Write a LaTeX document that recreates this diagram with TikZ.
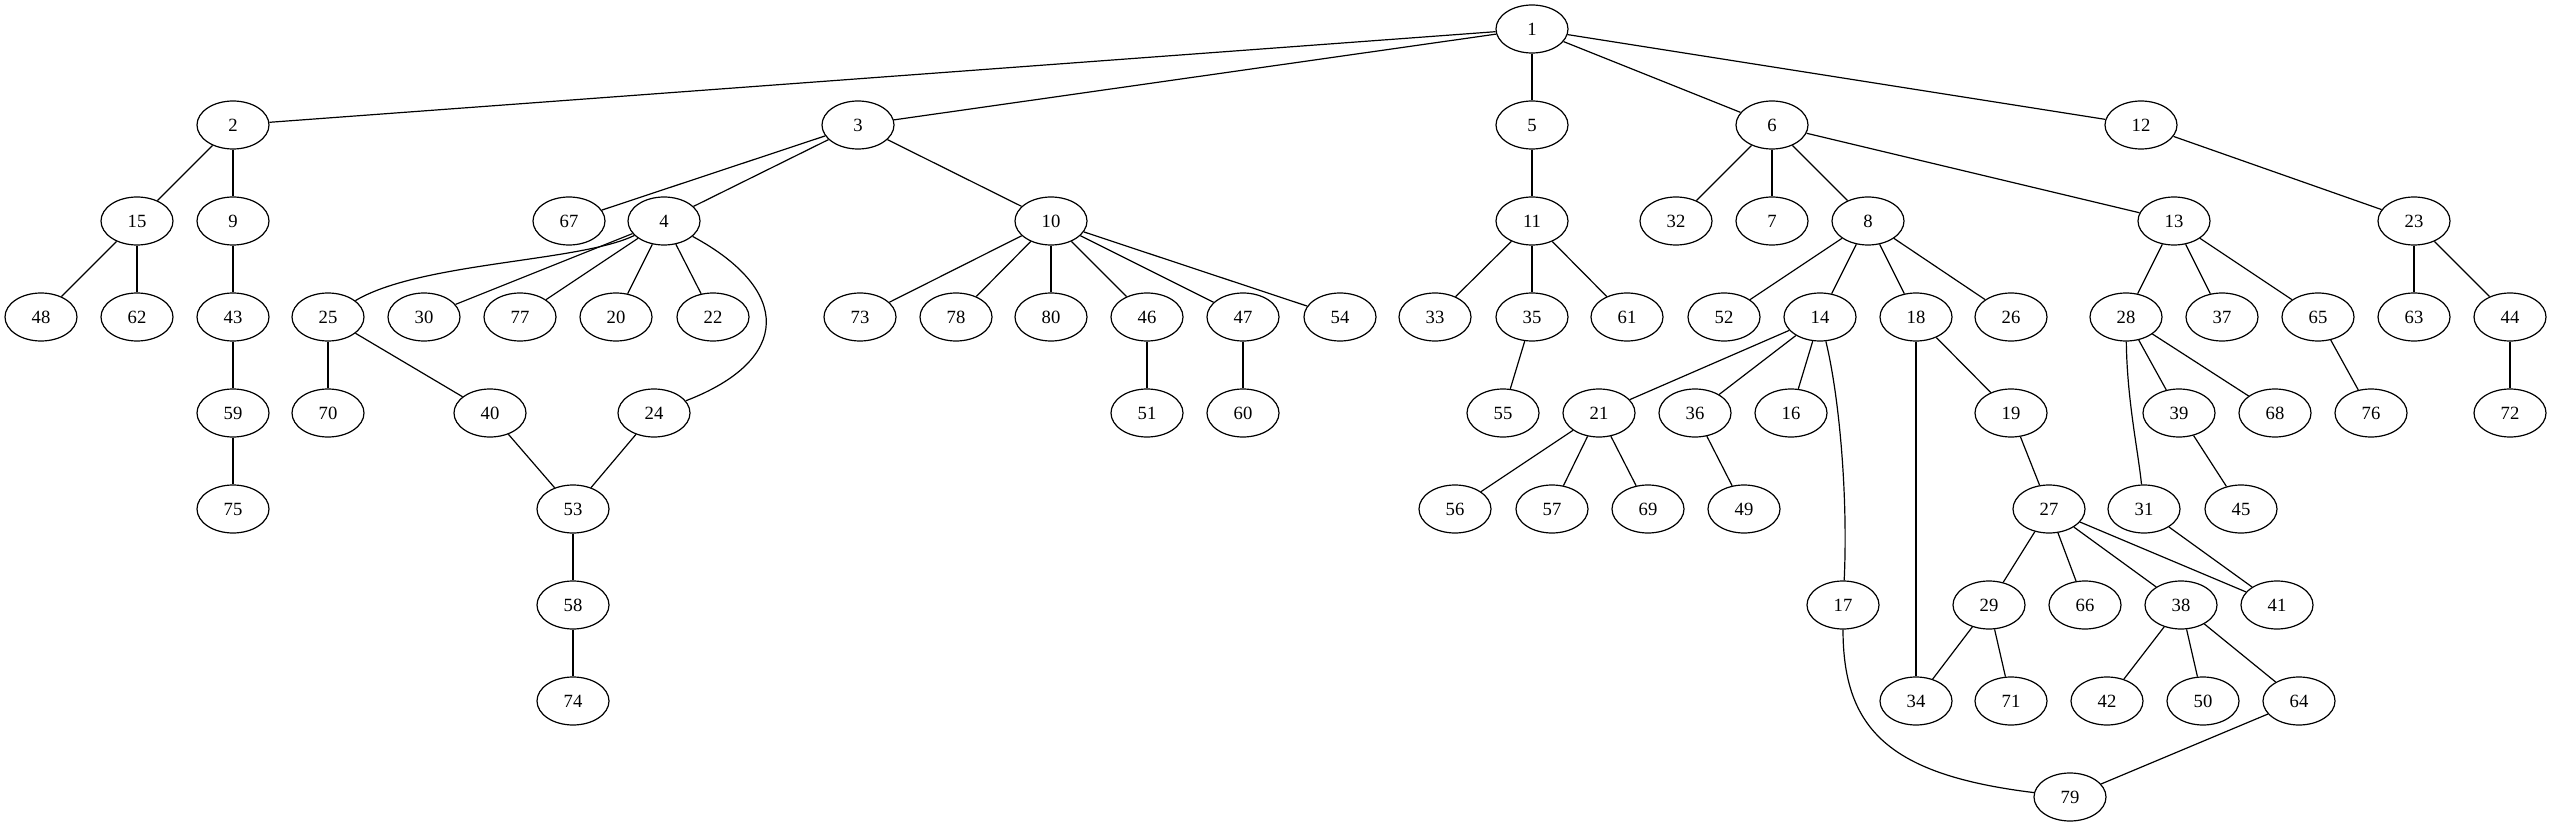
\documentclass[tikz,border=0pt]{standalone}
\usepackage{fontspec}
\setmainfont{Liberation Serif}
\usetikzlibrary{shapes.geometric}

\begin{document}
\begin{tikzpicture}[x=0.75pt, y=-0.75pt, line width=0.9pt,
    vertex/.style={draw, ellipse, minimum width=54pt, minimum height=36pt,
        inner sep=0pt, font=\fontsize{14}{16}\selectfont}]
    \useasboundingbox (0,0) rectangle (2552,827);

    % Row 0
    \node[vertex] (n1) at (1532,29) {1};

    % Row 1
    \node[vertex] (n2) at (233,125) {2};
    \node[vertex] (n3) at (858,125) {3};
    \node[vertex] (n5) at (1532,125) {5};
    \node[vertex] (n6) at (1772,125) {6};
    \node[vertex] (n12) at (2141,125) {12};

    % Row 2
    \node[vertex] (n15) at (137,221) {15};
    \node[vertex] (n9) at (233,221) {9};
    \node[vertex] (n67) at (569,221) {67};
    \node[vertex] (n4) at (664,221) {4};
    \node[vertex] (n10) at (1051,221) {10};
    \node[vertex] (n11) at (1532,221) {11};
    \node[vertex] (n32) at (1676,221) {32};
    \node[vertex] (n7) at (1772,221) {7};
    \node[vertex] (n8) at (1868,221) {8};
    \node[vertex] (n13) at (2174,221) {13};
    \node[vertex] (n23) at (2414,221) {23};

    % Row 3
    \node[vertex] (n48) at (41,317) {48};
    \node[vertex] (n62) at (137,317) {62};
    \node[vertex] (n43) at (233,317) {43};
    \node[vertex] (n25) at (328,317) {25};
    \node[vertex] (n30) at (424,317) {30};
    \node[vertex] (n77) at (520,317) {77};
    \node[vertex] (n20) at (616,317) {20};
    \node[vertex] (n22) at (713,317) {22};
    \node[vertex] (n73) at (860,317) {73};
    \node[vertex] (n78) at (956,317) {78};
    \node[vertex] (n80) at (1051,317) {80};
    \node[vertex] (n46) at (1147,317) {46};
    \node[vertex] (n47) at (1243,317) {47};
    \node[vertex] (n54) at (1340,317) {54};
    \node[vertex] (n33) at (1435,317) {33};
    \node[vertex] (n35) at (1532,317) {35};
    \node[vertex] (n61) at (1627,317) {61};
    \node[vertex] (n52) at (1724,317) {52};
    \node[vertex] (n14) at (1820,317) {14};
    \node[vertex] (n18) at (1916,317) {18};
    \node[vertex] (n26) at (2011,317) {26};
    \node[vertex] (n28) at (2126,317) {28};
    \node[vertex] (n37) at (2222,317) {37};
    \node[vertex] (n65) at (2318,317) {65};
    \node[vertex] (n63) at (2414,317) {63};
    \node[vertex] (n44) at (2510,317) {44};

    % Row 4
    \node[vertex] (n59) at (233,413) {59};
    \node[vertex] (n70) at (328,413) {70};
    \node[vertex] (n40) at (490,413) {40};
    \node[vertex] (n24) at (654,413) {24};
    \node[vertex] (n51) at (1147,413) {51};
    \node[vertex] (n60) at (1243,413) {60};
    \node[vertex] (n55) at (1503,413) {55};
    \node[vertex] (n21) at (1599,413) {21};
    \node[vertex] (n36) at (1695,413) {36};
    \node[vertex] (n16) at (1791,413) {16};
    \node[vertex] (n19) at (2011,413) {19};
    \node[vertex] (n39) at (2179,413) {39};
    \node[vertex] (n68) at (2275,413) {68};
    \node[vertex] (n76) at (2371,413) {76};
    \node[vertex] (n72) at (2510,413) {72};

    % Row 5
    \node[vertex] (n75) at (233,509) {75};
    \node[vertex] (n53) at (573,509) {53};
    \node[vertex] (n56) at (1455,509) {56};
    \node[vertex] (n57) at (1552,509) {57};
    \node[vertex] (n69) at (1648,509) {69};
    \node[vertex] (n49) at (1744,509) {49};
    \node[vertex] (n27) at (2049,509) {27};
    \node[vertex] (n31) at (2144,509) {31};
    \node[vertex] (n45) at (2241,509) {45};

    % Row 6
    \node[vertex] (n58) at (573,605) {58};
    \node[vertex] (n17) at (1843,605) {17};
    \node[vertex] (n29) at (1989,605) {29};
    \node[vertex] (n66) at (2085,605) {66};
    \node[vertex] (n38) at (2181,605) {38};
    \node[vertex] (n41) at (2277,605) {41};

    % Row 7
    \node[vertex] (n74) at (573,701) {74};
    \node[vertex] (n34) at (1916,701) {34};
    \node[vertex] (n71) at (2011,701) {71};
    \node[vertex] (n42) at (2107,701) {42};
    \node[vertex] (n50) at (2203,701) {50};
    \node[vertex] (n64) at (2299,701) {64};

    % Row 8
    \node[vertex] (n79) at (2070,797) {79};

    % Edges from the root
    \draw (n1) -- (n2); \draw (n1) -- (n3); \draw (n1) -- (n5);
    \draw (n1) -- (n6); \draw (n1) -- (n12);

    % Left branch
    \draw (n2) -- (n15); \draw (n2) -- (n9);
    \draw (n15) -- (n48); \draw (n15) -- (n62);
    \draw (n9) -- (n43); \draw (n43) -- (n59); \draw (n59) -- (n75);

    % Branch of 3
    \draw (n3) -- (n67); \draw (n3) -- (n4); \draw (n3) -- (n10);
    \draw (n4) .. controls (580,262) and (420,262) .. (n25);
    \draw (n4) -- (n30); \draw (n4) -- (n77); \draw (n4) -- (n20); \draw (n4) -- (n22);
    \draw (n4) .. controls (792,290) and (792,360) .. (n24);
    \draw (n25) -- (n70); \draw (n25) -- (n40);
    \draw (n40) -- (n53); \draw (n24) -- (n53);
    \draw (n53) -- (n58); \draw (n58) -- (n74);
    \draw (n10) -- (n73); \draw (n10) -- (n78); \draw (n10) -- (n80);
    \draw (n10) -- (n46); \draw (n10) -- (n47); \draw (n10) -- (n54);
    \draw (n46) -- (n51); \draw (n47) -- (n60);

    % Branch of 5
    \draw (n5) -- (n11);
    \draw (n11) -- (n33); \draw (n11) -- (n35); \draw (n11) -- (n61);
    \draw (n35) -- (n55);

    % Branch of 6
    \draw (n6) -- (n32); \draw (n6) -- (n7); \draw (n6) -- (n8); \draw (n6) -- (n13);
    \draw (n8) -- (n52); \draw (n8) -- (n14); \draw (n8) -- (n18); \draw (n8) -- (n26);
    \draw (n14) -- (n21); \draw (n14) -- (n36); \draw (n14) -- (n16);
    \draw (n14) .. controls (1840,400) and (1848,500) .. (n17);
    \draw (n21) -- (n56); \draw (n21) -- (n57); \draw (n21) -- (n69);
    \draw (n36) -- (n49);
    \draw (n18) -- (n34); \draw (n18) -- (n19);
    \draw (n19) -- (n27);
    \draw (n27) -- (n29); \draw (n27) -- (n66); \draw (n27) -- (n38); \draw (n27) -- (n41);
    \draw (n29) -- (n34); \draw (n29) -- (n71);
    \draw (n38) -- (n42); \draw (n38) -- (n50); \draw (n38) -- (n64);
    \draw (n64) -- (n79);
    \draw (n17) .. controls (1843,730) and (1890,775) .. (n79);
    \draw (n13) -- (n28); \draw (n13) -- (n37); \draw (n13) -- (n65);
    \draw (n28) .. controls (2127,400) and (2138,450) .. (n31);
    \draw (n28) -- (n39); \draw (n28) -- (n68);
    \draw (n39) -- (n45); \draw (n31) -- (n41);
    \draw (n65) -- (n76);

    % Branch of 12
    \draw (n12) -- (n23);
    \draw (n23) -- (n63); \draw (n23) -- (n44);
    \draw (n44) -- (n72);
\end{tikzpicture}
\end{document}
